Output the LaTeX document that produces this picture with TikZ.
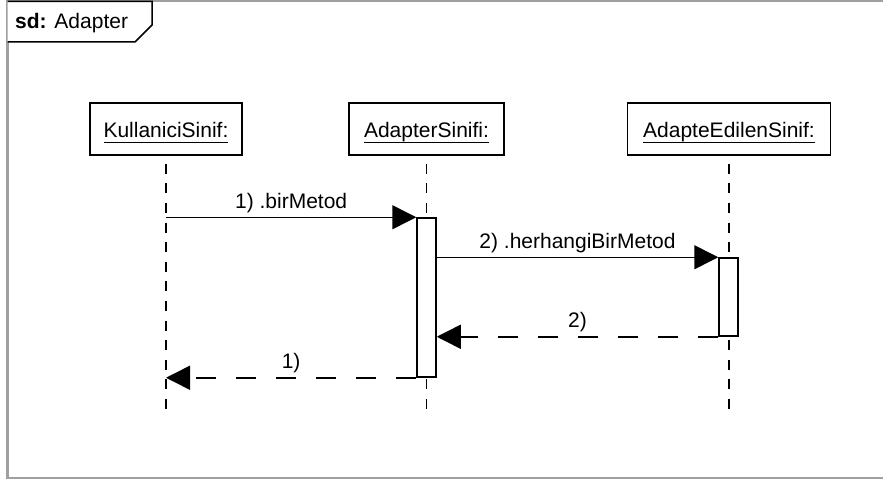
\documentclass[tikz,border=0pt]{standalone}
\usepackage{fontspec}
\setmainfont{Liberation Sans}
\usetikzlibrary{arrows.meta}
\definecolor{framegray}{RGB}{160,160,160}
% underlined object name; the rule sits a fixed distance below the baseline
\newcommand\ulname[1]{\setbox0=\hbox{#1}\dp0=0pt\vtop{\box0\kern4pt\hrule height 1.5pt}}
\begin{document}
\begin{tikzpicture}[x=1pt,y=-1pt,
  every node/.style={font=\fontsize{21}{25}\selectfont},
  head/.style={draw, line width=1.5pt, fill=white, minimum height=52pt,
    text height=24pt, text depth=6pt, inner sep=0pt},
  lifeline/.style={line width=1.4pt, dash pattern=on 10pt off 9.6pt, shorten <=8pt},
  actbar/.style={draw, line width=1.5pt, fill=white, minimum width=19pt, inner sep=0pt},
  call/.style={line width=1.5pt, -{Triangle[length=24pt,width=24pt]}},
  reply/.style={call, dash pattern=on 20pt off 20pt},
  msglabel/.style={midway, anchor=base, yshift=9pt, inner sep=0pt}]
\useasboundingbox (0,0) rectangle (883,481);

% diagram frame and its name tag
\draw[framegray, line width=2.2pt] (7.5,1) rectangle (900,478);
\draw[line width=1.5pt, fill=white] (7.5,1.5) -- (152,1.5) -- (152,25) -- (135,42) -- (7.5,42);
\node[anchor=base west, inner sep=0pt] (tag) at (15,29) {\textbf{sd:} Adapter};

% lifeline heads
\node[head, minimum width=152pt] (k) at (166,129) {\ulname{KullaniciSinif:}};
\node[head, minimum width=155pt] (a) at (426.5,129) {\ulname{AdapterSinifi:}};
\node[head, minimum width=203pt] (e) at (729,129) {\ulname{AdapteEdilenSinif:}};

% lifeline ends
\coordinate (kend) at (166,416);
\coordinate (aend) at (426.5,416);
\coordinate (eend) at (729,416);

\draw[lifeline] (k.south) -- (kend);
\draw[lifeline] (a.south) -- (aend);
\draw[lifeline] (e.south) -- (eend);

% activation bars
\node[actbar, minimum height=159pt] (abar) at (426.5,297.5) {};
\node[actbar, minimum height=78pt] (ebar) at (728.5,297) {};

% messages
\draw[call] (k.south |- abar.north west) -- (abar.north west)
  node[msglabel] (m1) {1) .birMetod};
\draw[call] (abar.east |- ebar.north west) -- (ebar.north west)
  node[msglabel] (m2) {2) .herhangiBirMetod};
\draw[reply] (ebar.south west) -- (abar.east |- ebar.south west)
  node[msglabel] (r2) {2)};
\draw[reply] (abar.south west) -- (k.south |- abar.south west)
  node[msglabel] (r1) {1)};
\end{tikzpicture}
\end{document}
